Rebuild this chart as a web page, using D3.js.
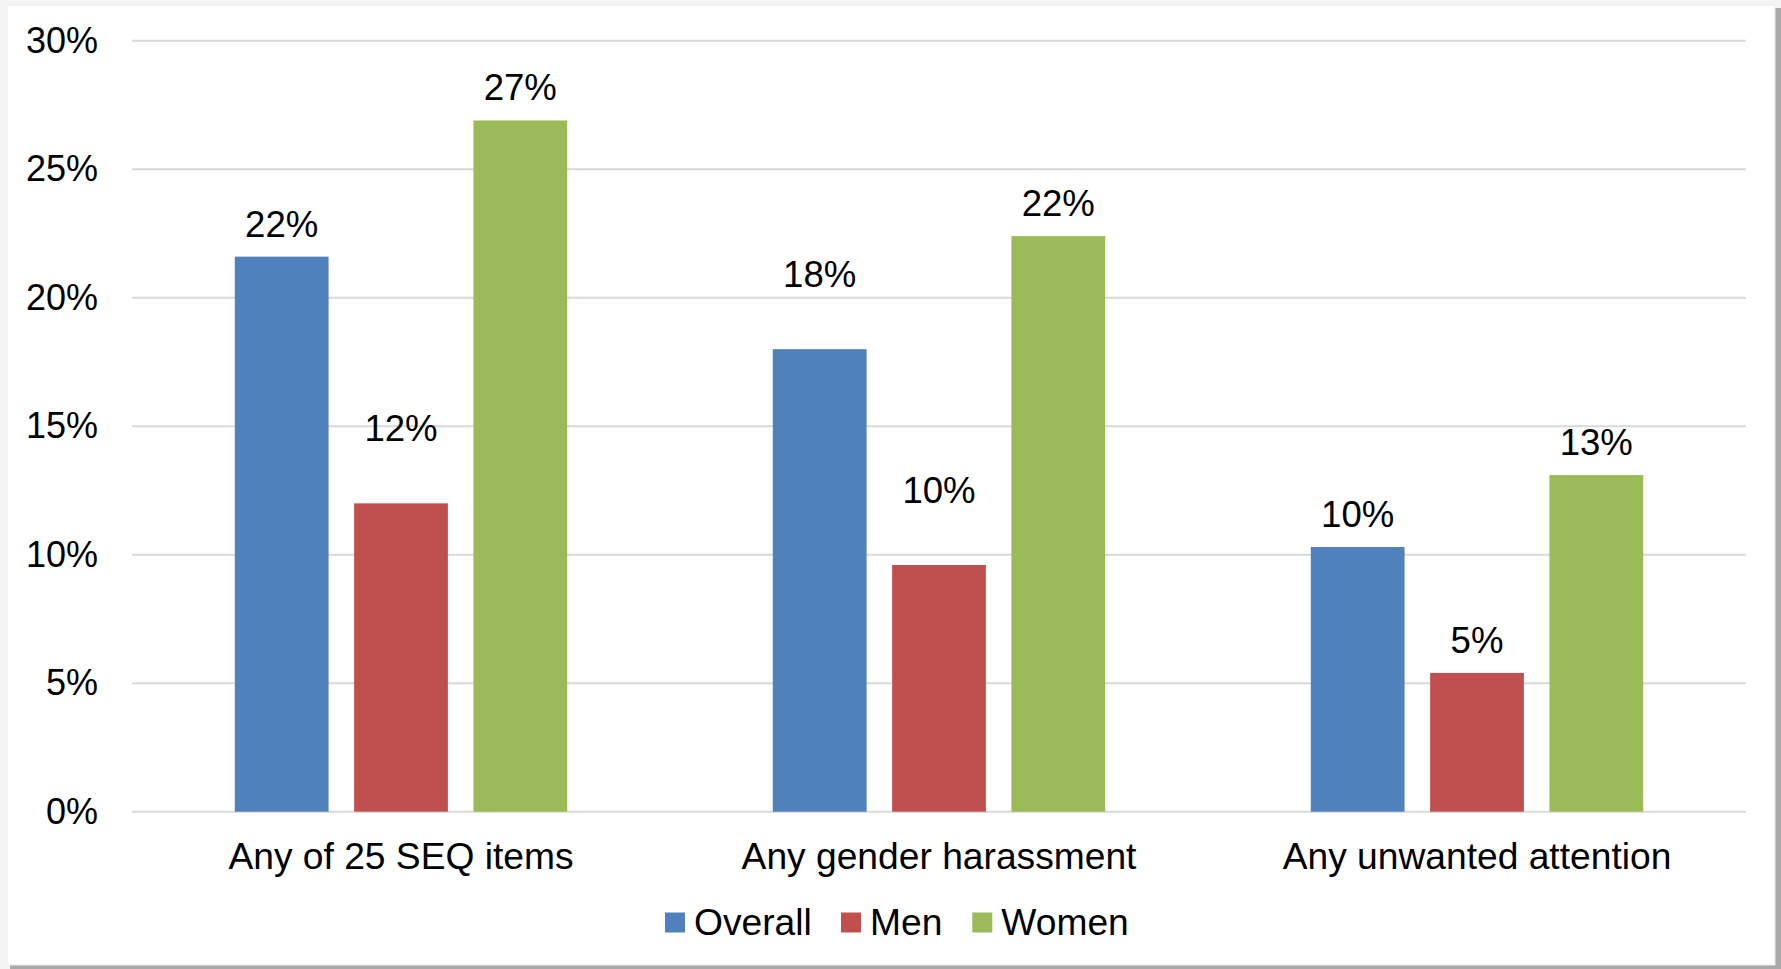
<!DOCTYPE html>
<html>
<head>
<meta charset="utf-8">
<script src="https://cdn.jsdelivr.net/npm/d3@7"></script>
<style>
  html, body { margin: 0; padding: 0; background: #f4f4f4; }
  svg { display: block; }
  text { font-family: "Liberation Sans", Arial, sans-serif; fill: #000; }
</style>
</head>
<body>
<svg id="chart" width="1781" height="969"></svg>
<script>
// ---- Data ----
const categories = ["Any of 25 SEQ items", "Any gender harassment", "Any unwanted attention"];
const seriesNames = ["Overall", "Men", "Women"];
const overall = [21.6, 18.0, 10.3];
const men = [12.0, 9.6, 5.4];
const women = [26.9, 22.4, 13.1];
const yTicks = [0, 5, 10, 15, 20, 25, 30];
const colors = ["#4F81BD", "#C0504D", "#9BBB59"];

const seriesValues = [overall, men, women];

// ---- Layout (label gaps above bars, per series x category, in px) ----
const labelGap = [
  [20, 62, 20],  // Overall
  [62, 62, 20],  // Men
  [20, 20, 20]   // Women
];

const W = 1781, H = 969;
const svg = d3.select("#chart");

// frame with shadow
svg.append("rect").attr("x", 10).attr("y", 8).attr("width", 1771).attr("height", 961).attr("fill", "#a8a8a8");
svg.append("rect").attr("x", 7).attr("y", 5).attr("width", 1768).attr("height", 960)
  .attr("fill", "#ffffff").attr("stroke", "#ececec").attr("stroke-width", 1);

const plotLeft = 132, plotRight = 1746, plotTop = 40.8, plotBottom = 811.7;

const x0 = d3.scaleBand().domain(categories).range([plotLeft, plotRight]).padding(0);
const outer = 102.8;
const x1 = d3.scaleBand().domain(seriesNames)
  .range([outer, x0.bandwidth() - outer]).paddingInner(0.214).paddingOuter(0);
const y = d3.scaleLinear().domain([0, 30]).range([plotBottom, plotTop]);

// gridlines
const grid = svg.append("g");
grid.selectAll("line").data(yTicks).join("line")
  .attr("x1", plotLeft).attr("x2", plotRight)
  .attr("y1", d => y(d)).attr("y2", d => y(d))
  .attr("stroke", "#d9d9d9").attr("stroke-width", 2);

// y axis labels
const yAxis = d3.axisLeft(y).tickValues(yTicks).tickFormat(d => d + "%").tickSize(0).tickPadding(0);
const yg = svg.append("g").attr("transform", `translate(98,0)`).call(yAxis);
yg.select(".domain").remove();
yg.selectAll("text").attr("font-size", 36).attr("fill", "#000")
  .attr("font-family", "Liberation Sans, Arial, sans-serif");

// bars
const rows = [];
categories.forEach((c, i) => {
  seriesNames.forEach((s, j) => {
    rows.push({ cat: c, series: s, value: seriesValues[j][i], color: colors[j], gap: labelGap[j][i] });
  });
});

svg.append("g").selectAll("rect").data(rows).join("rect")
  .attr("x", d => x0(d.cat) + x1(d.series))
  .attr("width", x1.bandwidth())
  .attr("y", d => y(d.value))
  .attr("height", d => y(0) - y(d.value))
  .attr("fill", d => d.color);

// data labels
svg.append("g").selectAll("text").data(rows).join("text")
  .attr("x", d => x0(d.cat) + x1(d.series) + x1.bandwidth() / 2)
  .attr("y", d => y(d.value) - d.gap)
  .attr("text-anchor", "middle")
  .attr("font-size", 36.6)
  .text(d => Math.round(d.value) + "%");

// category labels
const xAxis = d3.axisBottom(x0).tickSize(0).tickPadding(0);
const xg = svg.append("g").attr("transform", `translate(0,${plotBottom})`).call(xAxis);
xg.select(".domain").remove();
xg.selectAll("text").attr("font-size", 37.2).attr("fill", "#000")
  .attr("font-family", "Liberation Sans, Arial, sans-serif")
  .attr("dy", null).attr("y", 57);

// legend
const legendItems = [
  { name: "Overall", color: colors[0], x: 665 },
  { name: "Men", color: colors[1], x: 841 },
  { name: "Women", color: colors[2], x: 972.3 }
];
const lg = svg.append("g");
const li = lg.selectAll("g").data(legendItems).join("g")
  .attr("transform", d => `translate(${d.x},0)`);
li.append("rect").attr("x", 0).attr("y", 912.5).attr("width", 20).attr("height", 20).attr("fill", d => d.color);
li.append("text").attr("x", 29).attr("y", 935).attr("font-size", 37.2).text(d => d.name);
</script>
</body>
</html>
